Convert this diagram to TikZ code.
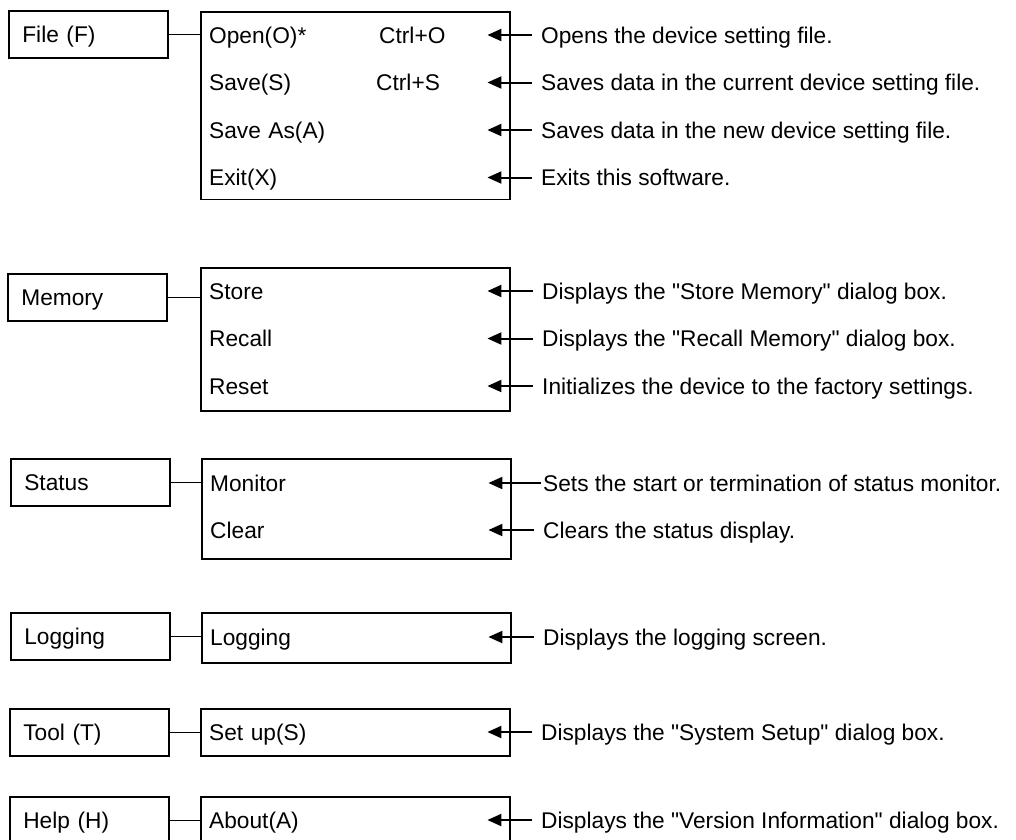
\documentclass[tikz,border=0pt]{standalone}
\usepackage{fontspec}
\setmainfont{Liberation Sans}[Ligatures=TeXOff]
\usetikzlibrary{arrows.meta}

\tikzset{
  menu/.style={draw, line width=1.7pt, anchor=north west, minimum width=159pt, minimum height=47pt,
    inner xsep=13.5pt, text width=132pt, align=left, text height=16.3pt, text depth=0pt},
  menubox/.style={draw, line width=1.9pt, anchor=north west, minimum width=309pt, inner sep=0pt},
  item/.style={anchor=west, inner sep=0pt, text width=278pt, align=left, text height=16.3pt, text depth=0pt},
  key/.style={anchor=west, inner sep=0pt, text height=16.3pt, text depth=0pt},
  note/.style={anchor=west, inner xsep=9pt, inner ysep=0pt, text height=16.3pt, text depth=0pt},
  link/.style={line width=1.5pt},
  arr/.style={line width=2pt, -{Triangle[length=14pt,width=12pt]}}
}

\begin{document}
\begin{tikzpicture}[x=1pt, y=-1pt, font=\fontsize{22.7}{27}\selectfont]
 \useasboundingbox (0,0) rectangle (1016,839);
 \clip (0,0) rectangle (1016,839);

 % File
 \node[menu] (file) at (8,10) {File (F)};
 \node[menubox, minimum height=187.5pt] (fileM) at (200,11) {};
 \draw[link] (file.east) -- (file.east -| fileM.west);
 \node[item] (o1) at (209,35) {Open(O)*};
 \node[key] (k1) at (379,35) {Ctrl+O};
 \node[item] (o2) at (209,82.5) {Save(S)};
 \node[key] (k2) at (376,82.5) {Ctrl+S};
 \node[item] (o3) at (209,130) {Save As(A)};
 \node[item] (o4) at (209,177.5) {Exit(X)};
 \node[note] (d1) at (532,35) {Opens the device setting file.};
 \node[note] (d2) at (532,82.5) {Saves data in the current device setting file.};
 \node[note] (d3) at (532,130) {Saves data in the new device setting file.};
 \node[note] (d4) at (532,177.5) {Exits this software.};
 \draw[arr] (d1.west) -- (o1.east);
 \draw[arr] (d2.west) -- (o2.east);
 \draw[arr] (d3.west) -- (o3.east);
 \draw[arr] (d4.west) -- (o4.east);

 % Memory
 \node[menu] (mem) at (7,273) {Memory};
 \node[menubox, minimum height=143pt] (memM) at (200,267) {};
 \draw[link] (mem.east) -- (mem.east -| memM.west);
 \node[item] (m1) at (209,291) {Store};
 \node[item] (m2) at (209,338.5) {Recall};
 \node[item] (m3) at (209,386) {Reset};
 \node[note] (e1) at (533,291) {Displays the "Store Memory" dialog box.};
 \node[note] (e2) at (533,338.5) {Displays the "Recall Memory" dialog box.};
 \node[note] (e3) at (533,386) {Initializes the device to the factory settings.};
 \draw[arr] (e1.west) -- (m1.east);
 \draw[arr] (e2.west) -- (m2.east);
 \draw[arr] (e3.west) -- (m3.east);

 % Status
 \node[menu] (stat) at (10,458) {Status};
 \node[menubox, minimum height=100pt] (statM) at (201,458) {};
 \draw[link] (stat.east) -- (stat.east -| statM.west);
 \node[item] (s1) at (210,483) {Monitor};
 \node[item] (s2) at (210,530) {Clear};
 \node[note, inner xsep=2pt] (f1) at (541,483) {Sets the start or termination of status monitor.};
 \node[note] (f2) at (534,530) {Clears the status display.};
 \draw[arr] (f1.west) -- (s1.east);
 \draw[arr] (f2.west) -- (s2.east);

 % Logging
 \node[menu] (logm) at (10,612) {Logging};
 \node[menubox, minimum height=50pt] (logM) at (201,612) {};
 \draw[link] (logm.east) -- (logm.east -| logM.west);
 \node[item] (l1) at (210,637) {Logging};
 \node[note] (g1) at (534,637) {Displays the logging screen.};
 \draw[arr] (g1.west) -- (l1.east);

 % Tool
 \node[menu] (tool) at (9,708) {Tool (T)};
 \node[menubox, minimum height=47pt] (toolM) at (200,708) {};
 \draw[link] (tool.east) -- (tool.east -| toolM.west);
 \node[item] (t1) at (209,732) {Set up(S)};
 \node[note] (h1) at (532,732) {Displays the "System Setup" dialog box.};
 \draw[arr] (h1.west) -- (t1.east);

 % Help
 \node[menu] (help) at (9,796) {Help (H)};
 \node[menubox, minimum height=47pt] (helpM) at (200,796) {};
 \draw[link] (help.east) -- (help.east -| helpM.west);
 \node[item] (a1) at (209,820) {About(A)};
 \node[note] (i1) at (532,820) {Displays the "Version Information" dialog box.};
 \draw[arr] (i1.west) -- (a1.east);
\end{tikzpicture}
\end{document}
